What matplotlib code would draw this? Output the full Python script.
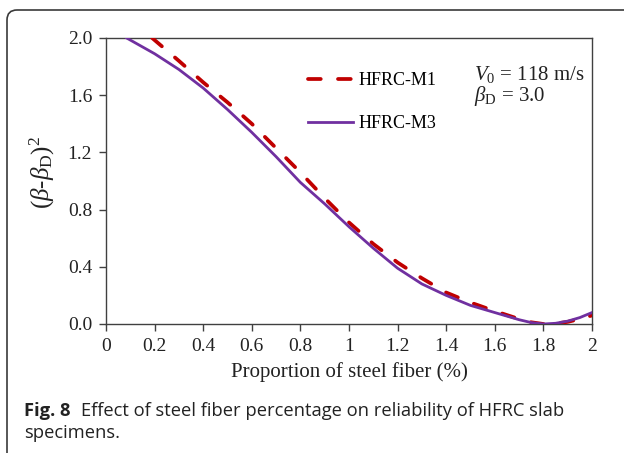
import matplotlib
matplotlib.use("Agg")
from matplotlib import pyplot as plt
from matplotlib.patches import FancyBboxPatch
from matplotlib.ticker import FixedLocator, FuncFormatter

# data
m1_x = [0.19, 0.3, 0.4, 0.5, 0.6, 0.7, 0.8, 0.9, 1.0, 1.1, 1.2, 1.3, 1.4, 1.5, 1.6, 1.7, 1.75, 1.8, 1.85, 1.9, 1.95, 2.0]
m1_y = [2.0, 1.84, 1.69, 1.55, 1.40, 1.23, 1.06, 0.88, 0.71, 0.56, 0.43, 0.32, 0.22, 0.15, 0.09, 0.035, 0.012, 0.0, 0.003, 0.015, 0.035, 0.06]

m3_x = [0.085, 0.2, 0.3, 0.4, 0.5, 0.6, 0.7, 0.8, 0.9, 1.0, 1.1, 1.2, 1.3, 1.4, 1.5, 1.6, 1.7, 1.75, 1.8, 1.85, 1.9, 1.95, 2.0]
m3_y = [2.0, 1.89, 1.78, 1.65, 1.50, 1.34, 1.17, 0.99, 0.84, 0.68, 0.53, 0.39, 0.28, 0.20, 0.13, 0.08, 0.03, 0.01, 0.0, 0.005, 0.02, 0.045, 0.08]

x_ticks = [0, 0.2, 0.4, 0.6, 0.8, 1.0, 1.2, 1.4, 1.6, 1.8, 2.0]
y_ticks = [0.0, 0.4, 0.8, 1.2, 1.6, 2.0]

caption_bold = "Fig. 8"
caption_text = "Effect of steel fiber percentage on reliability of HFRC slab"
caption_text2 = "specimens."

plt.rcParams['font.family'] = 'Liberation Serif'
plt.rcParams['mathtext.fontset'] = 'custom'
plt.rcParams['mathtext.rm'] = 'Liberation Serif'
plt.rcParams['mathtext.it'] = 'Liberation Serif:italic'

W, H = 624, 453
fig = plt.figure(figsize=(6.24, 4.53), dpi=100)
ax = fig.add_axes([106 / W, 1 - 324 / H, 486 / W, 286 / H])

red = '#C00000'
purple = '#7030A0'

ax.plot(m1_x, m1_y, color=red, lw=2.7, linestyle=(0, (3.4, 4.6)), dash_capstyle='round',
        label='HFRC-M1', zorder=3)
ax.plot(m3_x, m3_y, color=purple, lw=2.0, label='HFRC-M3', zorder=4)

ax.set_xlim(0, 2)
ax.set_ylim(0, 2)
ax.xaxis.set_major_locator(FixedLocator(x_ticks))
ax.yaxis.set_major_locator(FixedLocator(y_ticks))
ax.xaxis.set_major_formatter(FuncFormatter(lambda v, p: '%d' % round(v) if abs(v - round(v)) < 1e-9 else '%.1f' % v))
ax.yaxis.set_major_formatter(FuncFormatter(lambda v, p: '%.1f' % v))
ax.tick_params(direction='out', length=5, width=1, colors='#404040', labelcolor='#222222', labelsize=14, pad=5)

for s in ax.spines.values():
  s.set_color('#404040')
  s.set_linewidth(1)

ax.set_xlabel('Proportion of steel fiber (%)', fontsize=15, color='#222222', labelpad=5)
ax.set_ylabel(r'$(\beta$-$\beta_{\rm D})^2$', fontsize=18, color='#222222')
ax.yaxis.set_label_coords(-0.101, 0.53)

ax.legend(loc='upper left', bbox_to_anchor=(0.401, 0.907), frameon=False, fontsize=13,
          handlelength=2.5, handletextpad=0.28, labelspacing=1.45, borderaxespad=0)

ax.text(0.757, 0.871, r'$V_0$ = 118 m/s', transform=ax.transAxes, fontsize=15, va='center', color='#222222')
ax.text(0.757, 0.797, r'$\beta_{\rm D}$ = 3.0', transform=ax.transAxes, fontsize=15, va='center', color='#222222')

# caption
t1 = fig.text(24 / W, 1 - 416 / H, caption_bold, family='Open Sans', weight='bold', fontsize=13.2, color='#222222', va='baseline')
fig.canvas.draw()
bb = t1.get_window_extent()
fig.text((bb.x1 + 10) / W, 1 - 416 / H, caption_text, family='Open Sans', fontsize=13.2, color='#222222', va='baseline')
fig.text(24 / W, 1 - 438 / H, caption_text2, family='Open Sans', fontsize=13.2, color='#222222', va='baseline')

# outer rounded frame, open past the right and bottom edges
frame = FancyBboxPatch((7, -30), 660, H - 10 + 30, boxstyle='round,pad=0,rounding_size=10',
                       transform=None, fill=False, edgecolor='#3a3a3a', linewidth=1.2)
fig.patches.append(frame)

fig.savefig('out.png', dpi=100)
